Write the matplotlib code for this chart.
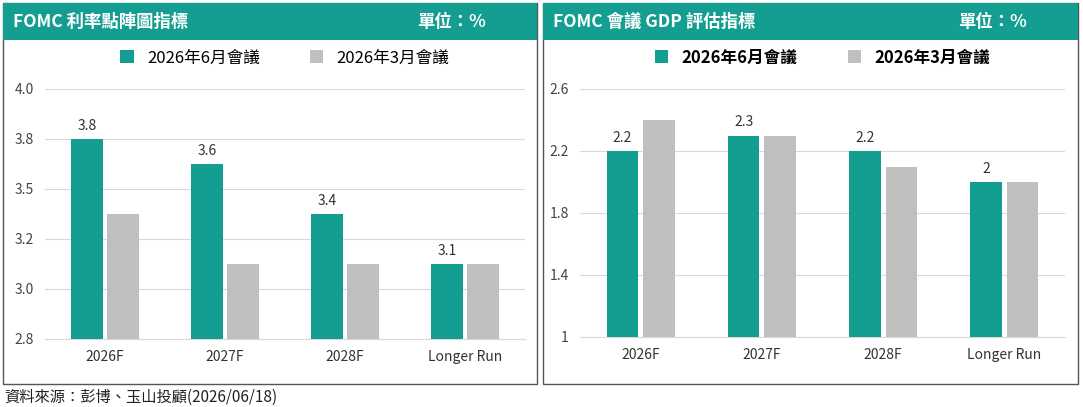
import matplotlib.pyplot as plt
from matplotlib.patches import Rectangle
import numpy as np

plt.rcParams['font.family'] = ['Noto Sans CJK TC', 'DejaVu Sans']

categories = ["2026F", "2027F", "2028F", "Longer Run"]
rate_jun = [3.75, 3.625, 3.375, 3.125]
rate_mar = [3.375, 3.125, 3.125, 3.125]
gdp_jun = [2.2, 2.3, 2.2, 2.0]
gdp_mar = [2.4, 2.3, 2.1, 2.0]
rate_ticks = [2.75, 3.0, 3.25, 3.5, 3.75, 4.0]
gdp_ticks = [1.0, 1.4, 1.8, 2.2, 2.6]

TEAL = "#139E91"
GRAY = "#BFBFBF"
W, H = 1083, 407

fig = plt.figure(figsize=(W / 100, H / 100), dpi=100)


def fx(px):
    return px / W


def fy(py):
    return 1 - py / H


def panel(x0, x1, title):
    fig.patches.append(Rectangle((fx(x0), fy(384)), fx(x1 - x0), (384 - 3) / H,
                                 transform=fig.transFigure, fill=False,
                                 edgecolor="#555555", linewidth=1))
    fig.patches.append(Rectangle((fx(x0), fy(40)), fx(x1 - x0), 37 / H,
                                 transform=fig.transFigure, facecolor=TEAL,
                                 edgecolor="none"))
    fig.text(fx(x0 + 10), fy(22), title, color="white", fontsize=12.5,
             fontweight="bold", va="center")
    fig.text(fx(x1 - 120), fy(22), "單位：%", color="white", fontsize=12.5,
             fontweight="bold", va="center")


def bars(ax, jun, mar, ticks, labels, fmt, bold):
    x = np.arange(len(categories))
    w = 0.26
    ax.bar(x - w / 2 - 0.02, jun, w, color=TEAL, label="2026年6月會議", zorder=3)
    ax.bar(x + w / 2 + 0.02, mar, w, color=GRAY, label="2026年3月會議", zorder=3)
    for xi, v, lab in zip(x, jun, labels):
        ax.text(xi - w / 2 - 0.02, v + (ticks[-1] - ticks[0]) * 0.025, lab,
                ha="center", va="bottom", fontsize=10, color="#333333")
    ax.set_ylim(ticks[0], ticks[-1])
    ax.set_yticks(ticks)
    ax.set_yticklabels([fmt(t) for t in ticks], fontsize=10, color="#444444")
    ax.set_xticks(x)
    ax.set_xticklabels(categories, fontsize=10, color="#333333")
    ax.set_xlim(-0.5, len(categories) - 0.5)
    ax.grid(axis="y", color="#D9D9D9", linewidth=0.8, zorder=0)
    for s in ["top", "right", "left"]:
        ax.spines[s].set_visible(False)
    ax.spines["bottom"].set_color("#D9D9D9")
    ax.tick_params(length=0, pad=8)
    ax.legend(loc="lower center", bbox_to_anchor=(0.5, 1.03), ncol=2,
              frameon=False, handlelength=0.8, handleheight=0.8,
              columnspacing=3, prop={"size": 12, "weight": "bold" if bold else "normal",
                                     "family": ['Noto Sans CJK TC', 'DejaVu Sans']})


panel(3, 537, "FOMC 利率點陣圖指標")
panel(543, 1078, "FOMC 會議 GDP 評估指標")

ax1 = fig.add_axes([fx(45), fy(339), fx(525 - 45), (339 - 89) / H])
bars(ax1, rate_jun, rate_mar, rate_ticks, [f"{v:.1f}" for v in rate_jun],
     lambda t: f"{t:.1f}", False)

ax2 = fig.add_axes([fx(580), fy(337), fx(1065 - 580), (337 - 89) / H])
bars(ax2, gdp_jun, gdp_mar, gdp_ticks, [f"{v:g}" for v in gdp_jun],
     lambda t: f"{t:g}", True)

fig.text(fx(4), fy(397), "資料來源：彭博、玉山投顧(2026/06/18)", fontsize=11,
         color="#222222", va="center")

fig.savefig("out.png", dpi=100)
